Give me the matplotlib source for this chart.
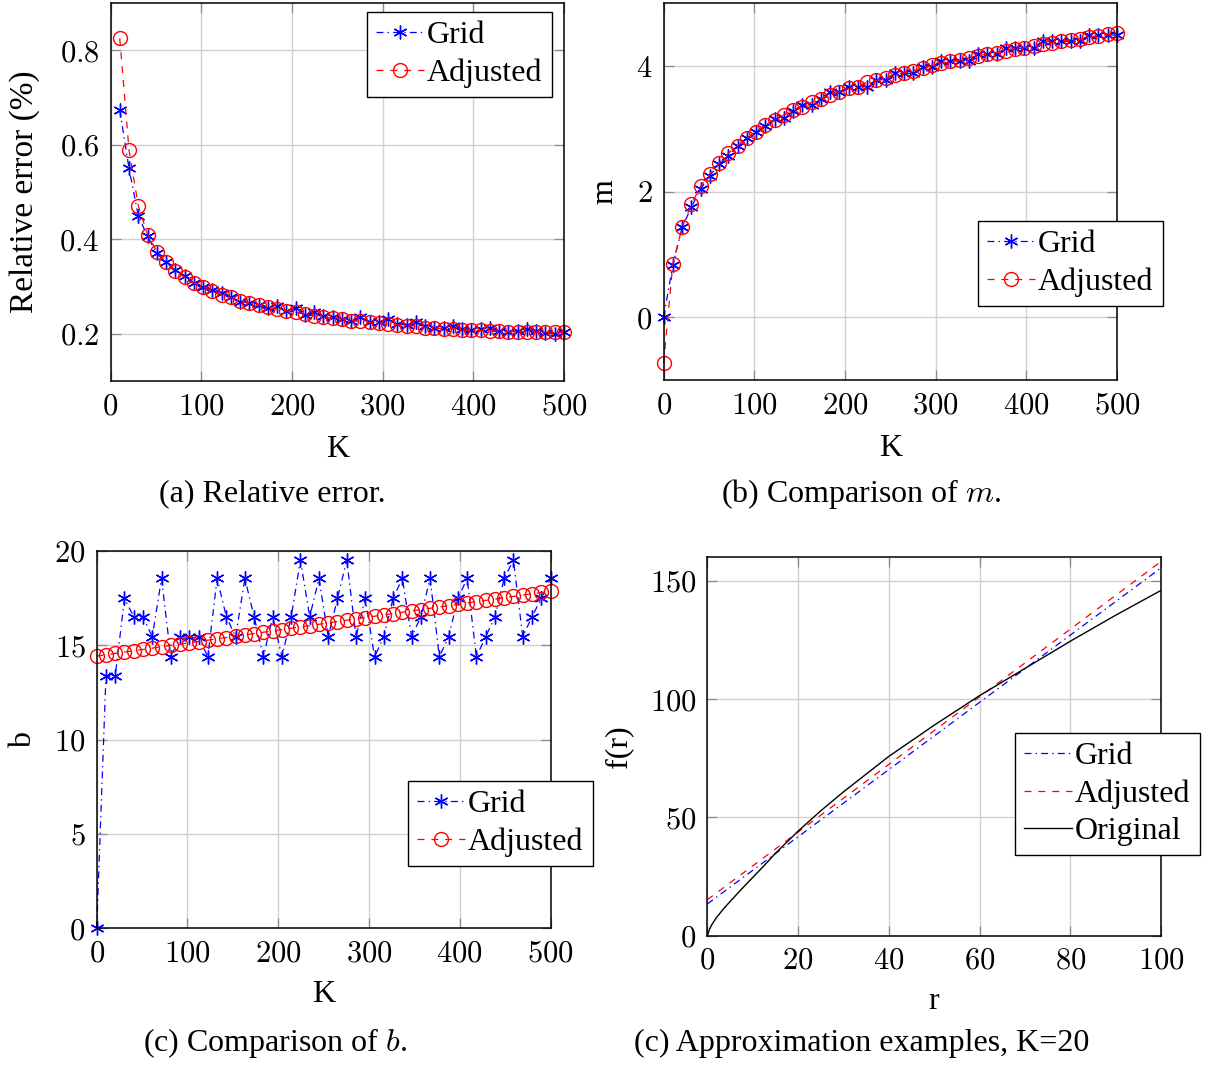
import matplotlib
matplotlib.use("Agg")
import matplotlib.pyplot as plt
import numpy as np
from matplotlib.ticker import FuncFormatter

plt.rcParams['font.family'] = ['Liberation Serif', 'DejaVu Serif']
plt.rcParams['mathtext.fontset'] = 'cm'
plt.rcParams['lines.scale_dashes'] = False

# K samples (50 values from 0 to 500)
K = np.linspace(0, 500, 50)

# (a) relative error, K[1:]
err_grid = [0.674, 0.550, 0.450, 0.406, 0.370, 0.351, 0.335, 0.323, 0.308, 0.298,
            0.292, 0.287, 0.277, 0.268, 0.265, 0.261, 0.254, 0.259, 0.249, 0.254,
            0.240, 0.245, 0.237, 0.236, 0.231, 0.226, 0.235, 0.224, 0.224, 0.232,
            0.220, 0.219, 0.224, 0.216, 0.212, 0.213, 0.217, 0.210, 0.207, 0.210,
            0.212, 0.206, 0.204, 0.205, 0.210, 0.205, 0.201, 0.200, 0.203]
err_adj = [0.825, 0.589, 0.471, 0.410, 0.374, 0.351, 0.333, 0.320, 0.308, 0.300,
           0.291, 0.282, 0.277, 0.270, 0.265, 0.261, 0.256, 0.253, 0.249, 0.245,
           0.242, 0.238, 0.235, 0.233, 0.231, 0.228, 0.226, 0.224, 0.223, 0.220,
           0.219, 0.217, 0.216, 0.213, 0.212, 0.211, 0.211, 0.208, 0.207, 0.207,
           0.206, 0.205, 0.204, 0.204, 0.204, 0.204, 0.203, 0.203, 0.203]

# (b) slope m
m_grid = [0.0, 0.83, 1.43, 1.75, 2.04, 2.25, 2.44, 2.57, 2.73, 2.85,
          2.95, 3.05, 3.15, 3.17, 3.28, 3.37, 3.37, 3.47, 3.58, 3.58,
          3.67, 3.67, 3.67, 3.78, 3.78, 3.88, 3.88, 3.88, 3.98, 3.98,
          4.08, 4.08, 4.08, 4.08, 4.19, 4.19, 4.19, 4.28, 4.28, 4.28,
          4.28, 4.39, 4.39, 4.39, 4.39, 4.39, 4.49, 4.49, 4.49, 4.49]
m_adj = [-0.73, 0.85, 1.43, 1.80, 2.08, 2.28, 2.45, 2.61, 2.73, 2.85,
         2.95, 3.06, 3.14, 3.22, 3.29, 3.35, 3.42, 3.47, 3.54, 3.59,
         3.64, 3.67, 3.74, 3.77, 3.81, 3.86, 3.89, 3.92, 3.97, 4.01,
         4.04, 4.07, 4.09, 4.13, 4.16, 4.19, 4.21, 4.24, 4.27, 4.29,
         4.31, 4.34, 4.37, 4.39, 4.41, 4.43, 4.46, 4.48, 4.50, 4.52]

# (c) intercept b
b_grid = [0.0, 13.36, 13.36, 17.47, 16.5, 16.5, 15.44, 18.53, 14.38, 15.44,
          15.44, 15.44, 14.38, 18.53, 16.5, 15.44, 18.53, 16.5, 14.38, 16.5,
          14.38, 16.5, 19.5, 16.5, 18.53, 15.44, 17.47, 19.5, 15.44, 17.47,
          14.38, 15.44, 17.47, 18.53, 15.44, 16.5, 18.53, 14.38, 15.44, 17.47,
          18.53, 14.38, 15.44, 16.5, 18.53, 19.5, 15.44, 16.5, 17.47, 18.53]
b_adj = [14.42, 14.49, 14.56, 14.63, 14.70, 14.77, 14.84, 14.91, 14.98, 15.05,
         15.12, 15.19, 15.26, 15.33, 15.40, 15.47, 15.54, 15.61, 15.68, 15.75,
         15.82, 15.89, 15.96, 16.03, 16.10, 16.18, 16.25, 16.32, 16.39, 16.46,
         16.53, 16.60, 16.67, 16.74, 16.81, 16.88, 16.95, 17.02, 17.09, 17.16,
         17.23, 17.30, 17.37, 17.44, 17.51, 17.58, 17.65, 17.72, 17.79, 17.86]

# (d) approximation examples, K=20
r_line = [0, 100]
f_grid = [13.4, 155.5]
f_adj = [15.2, 158.2]
r_orig = [0, 0.5, 1, 2, 3.5, 5, 7.5, 10, 12.5, 15, 20, 25, 30, 40, 50, 60, 70, 80, 90, 100]
f_orig = [0, 2.8, 4.7, 7.6, 11.2, 14.4, 19.6, 24.6, 29.6, 34.8, 44.2, 52.8, 60.8,
          75.8, 89.0, 101.5, 113.0, 124.5, 135.5, 146.0]

FS = 22
LFS = 23
LEG = 23
CAP = 23

fig = plt.figure(figsize=(12.08, 10.66), dpi=100)
W, H = 1208, 1066


def make_ax(px):
    l, r, t, b = px
    ax = fig.add_axes([l / W, 1 - b / H, (r - l) / W, (b - t) / H])
    ax.grid(True, color='0.82', lw=1.0)
    ax.set_axisbelow(True)
    ax.tick_params(direction='in', top=True, right=True, length=7, width=0.9,
                   color='0.55', labelsize=FS, pad=8)
    for s in ax.spines.values():
        s.set_linewidth(1.1)
    fmt = FuncFormatter(lambda v, p: '$%g$' % v)
    ax.xaxis.set_major_formatter(fmt)
    ax.yaxis.set_major_formatter(fmt)
    return ax


star = (6, 2, 0)
grid_kw = dict(color='blue', lw=0.9, dashes=(5, 3, 1, 3), marker=star,
               ms=10, mew=1.0, clip_on=False)
adj_kw = dict(color='red', lw=0.9, dashes=(5, 5), marker='o', ms=10,
              mfc='none', mec='red', mew=1.0, clip_on=False)


def legend(ax, anchor):
    leg = ax.legend(loc='upper left', bbox_to_anchor=(anchor[0] / W, 1 - anchor[1] / H),
                    bbox_transform=fig.transFigure, fontsize=LEG, frameon=True,
                    fancybox=False, edgecolor='black', framealpha=1,
                    borderaxespad=0, handlelength=1.5, handletextpad=0.1,
                    labelspacing=0.25, borderpad=0.28)
    leg.get_frame().set_linewidth(1.0)
    return leg


# (a)
ax = make_ax((110.5, 564, 3, 381))
ax.plot(K[1:], err_grid, label='Grid', **grid_kw)
ax.plot(K[1:], err_adj, label='Adjusted', **adj_kw)
ax.set_xlim(0, 500)
ax.set_ylim(0.1, 0.9)
ax.set_xticks(range(0, 501, 100))
ax.set_yticks([0.2, 0.4, 0.6, 0.8])
ax.set_xlabel('K', fontsize=LFS, labelpad=10)
ax.set_ylabel('Relative error (%)', fontsize=24, labelpad=14)
legend(ax, (367, 12))

# (b)
ax = make_ax((663.6, 1117, 3, 380))
ax.plot(K, m_grid, label='Grid', **grid_kw)
ax.plot(K, m_adj, label='Adjusted', **adj_kw)
ax.set_xlim(0, 500)
ax.set_ylim(-1, 5)
ax.set_xticks(range(0, 501, 100))
ax.set_yticks([0, 2, 4])
ax.set_xlabel('K', fontsize=LFS, labelpad=10)
ax.set_ylabel('m', fontsize=LFS, labelpad=12)
legend(ax, (978, 221))

# (c)
ax = make_ax((96.7, 550.5, 550.7, 928.3))
ax.plot(K, b_grid, label='Grid', **grid_kw)
ax.plot(K, b_adj, label='Adjusted', **adj_kw)
ax.set_xlim(0, 500)
ax.set_ylim(0, 20)
ax.set_xticks(range(0, 501, 100))
ax.set_yticks([0, 5, 10, 15, 20])
ax.set_xlabel('K', fontsize=LFS, labelpad=8)
ax.set_ylabel('b', fontsize=LFS, labelpad=12)
legend(ax, (408, 781))

# (d)
ax = make_ax((707.3, 1161, 557.3, 935.7))
ax.plot(r_line, f_grid, color='blue', lw=0.9, dashes=(5, 3, 1, 3), label='Grid')
ax.plot(r_line, f_adj, color='red', lw=0.9, dashes=(5, 5), label='Adjusted')
ax.plot(r_orig, f_orig, color='black', lw=1.0, label='Original')
ax.set_xlim(0, 100)
ax.set_ylim(0, 160)
ax.set_xticks(range(0, 101, 20))
ax.set_yticks([0, 50, 100, 150])
ax.set_xlabel('r', fontsize=LFS, labelpad=8)
ax.set_ylabel('f(r)', fontsize=LFS, labelpad=12)
legend(ax, (1015, 733))

# captions
fig.text(272 / W, 1 - 494 / H, '(a) Relative error.', fontsize=CAP, ha='center', va='center')
fig.text(861 / W, 1 - 494 / H, '(b) Comparison of $m$.', fontsize=CAP, ha='center', va='center')
fig.text(275 / W, 1 - 1043 / H, '(c) Comparison of $b$.', fontsize=CAP, ha='center', va='center')
fig.text(862 / W, 1 - 1043 / H, '(c) Approximation examples, K=20', fontsize=CAP, ha='center', va='center')

fig.savefig('out.png', dpi=100)
